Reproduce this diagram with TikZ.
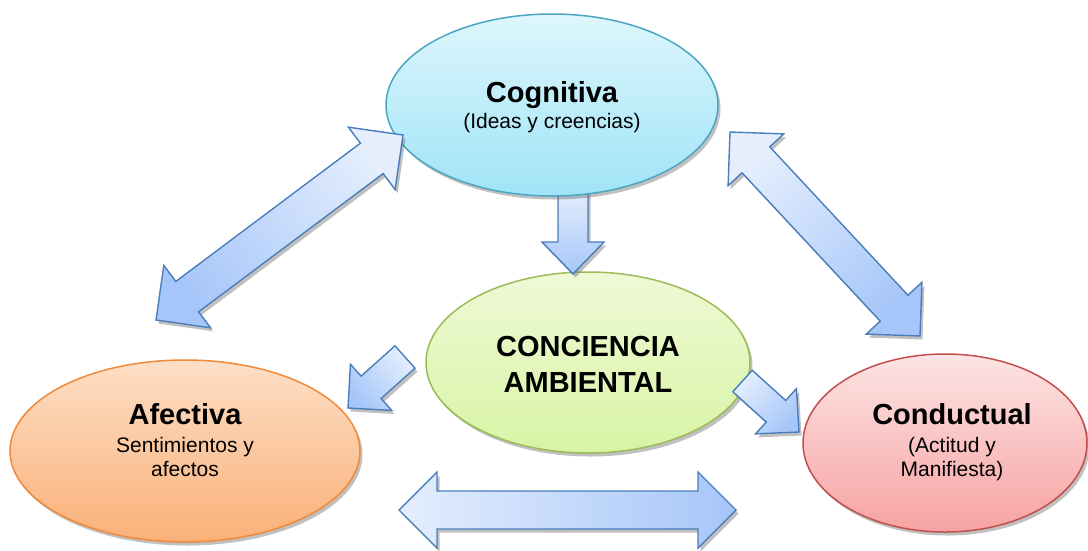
\documentclass[tikz,border=0pt]{standalone}
\usepackage{fontspec}
\setmainfont{Liberation Sans}
\usetikzlibrary{shapes.geometric,shadows,calc}
\definecolor{coglight}{HTML}{DDF6FC}
\definecolor{cogdark}{HTML}{A0E4F7}
\definecolor{cogedge}{HTML}{4BA6C2}
\definecolor{conlight}{HTML}{EFF9D6}
\definecolor{condark}{HTML}{D8F4A4}
\definecolor{conedge}{HTML}{9BBB59}
\definecolor{afelight}{HTML}{FDDFC6}
\definecolor{afedark}{HTML}{FAB078}
\definecolor{afeedge}{HTML}{F08A3A}
\definecolor{cndlight}{HTML}{FDE4E4}
\definecolor{cnddark}{HTML}{F7A2A2}
\definecolor{cndedge}{HTML}{C0504D}
\definecolor{arrowlight}{HTML}{E4EEFD}
\definecolor{arrowdark}{HTML}{A6C6F9}
\definecolor{arrowedge}{HTML}{4A7EBB}
\tikzset{
  softshadow/.style={drop shadow={shadow xshift=2.5pt, shadow yshift=-3.5pt, fill=black!55, opacity=0.45}},
  bubble/.style={ellipse, inner sep=0pt, line width=1.5pt, softshadow},
  title/.style={font=\fontsize{29}{36}\selectfont\bfseries, anchor=base, inner sep=0pt, align=center},
  sub/.style={font=\fontsize{21}{24}\selectfont, anchor=base, inner sep=0pt, align=center},
  blockarrow/.style={draw=arrowedge, line width=1.4pt, line join=miter, top color=arrowlight, bottom color=arrowdark, softshadow}
}
\newcommand{\twoway}[6]{%
  \coordinate (p) at ($(#1)!#5!(#2)$);
  \coordinate (q) at ($(#2)!#5!(#1)$);
  \path[blockarrow, shading angle=#6] (#1) -- ($(p)!#4!90:(#2)$) -- ($(p)!#3!90:(#2)$)
    -- ($(q)!#3!-90:(#1)$) -- ($(q)!#4!-90:(#1)$) -- (#2) -- ($(q)!#4!90:(#1)$)
    -- ($(q)!#3!90:(#1)$) -- ($(p)!#3!-90:(#2)$) -- ($(p)!#4!-90:(#2)$) -- cycle;
}
\newcommand{\oneway}[6]{%
  \coordinate (q) at ($(#2)!#5!(#1)$);
  \path[blockarrow, shading angle=#6] ($(#1)!#3!90:(#2)$) -- ($(q)!#3!-90:(#1)$)
    -- ($(q)!#4!-90:(#1)$) -- (#2) -- ($(q)!#4!90:(#1)$) -- ($(q)!#3!90:(#1)$)
    -- ($(#1)!#3!-90:(#2)$) -- cycle;
}
\begin{document}
\begin{tikzpicture}[x=1pt, y=-1pt]
  \useasboundingbox (0,0) rectangle (1088,550);
  \node[bubble, minimum width=324, minimum height=181, draw=conedge, top color=conlight, bottom color=condark] (con) at (588,362.5) {};
  \node[bubble, minimum width=350, minimum height=182, draw=afeedge, top color=afelight, bottom color=afedark] (afe) at (185,451) {};
  \node[bubble, minimum width=284, minimum height=178, draw=cndedge, top color=cndlight, bottom color=cnddark] (cnd) at (945,443) {};

  \coordinate (cogC) at (573,190);
  \coordinate (conC) at (573,274);
  \oneway{cogC}{conC}{15pt}{31pt}{32pt}{0}

  \node[bubble, minimum width=332, minimum height=182, draw=cogedge, top color=coglight, bottom color=cogdark] (cog) at (552,105) {};

  \coordinate (afeA) at (156,320);
  \coordinate (cogA) at (403,135);
  \coordinate (cogB) at (730,132);
  \coordinate (cndB) at (920,336);
  \coordinate (conD) at (405,357);
  \coordinate (afeD) at (348,408);
  \coordinate (conE) at (742.5,381);
  \coordinate (cndE) at (799,432);
  \coordinate (afeF) at (399,510);
  \coordinate (cndF) at (736,510);
  \twoway{afeA}{cogA}{19pt}{39pt}{39pt}{-53}
  \twoway{cogB}{cndB}{19pt}{38pt}{38pt}{43}
  \oneway{conD}{afeD}{15pt}{31pt}{31pt}{-48}
  \oneway{conE}{cndE}{14.5pt}{30.5pt}{31pt}{48}
  \twoway{afeF}{cndF}{19pt}{38pt}{38pt}{90}

  \node[title] (cogtitle) at (552,102) {Cognitiva};
  \node[sub] (cogtext) at (552,128) {(Ideas y creencias)};
  \node[title] (contitle) at (588,392) {CONCIENCIA\\AMBIENTAL};
  \node[title] (afetitle) at (185,424) {Afectiva};
  \node[sub] (afetext) at (185,476) {Sentimientos y\\afectos};
  \node[title] (cndtitle) at (952,424) {Conductual};
  \node[sub] (cndtext) at (952,476) {(Actitud y\\Manifiesta)};
\end{tikzpicture}
\end{document}
